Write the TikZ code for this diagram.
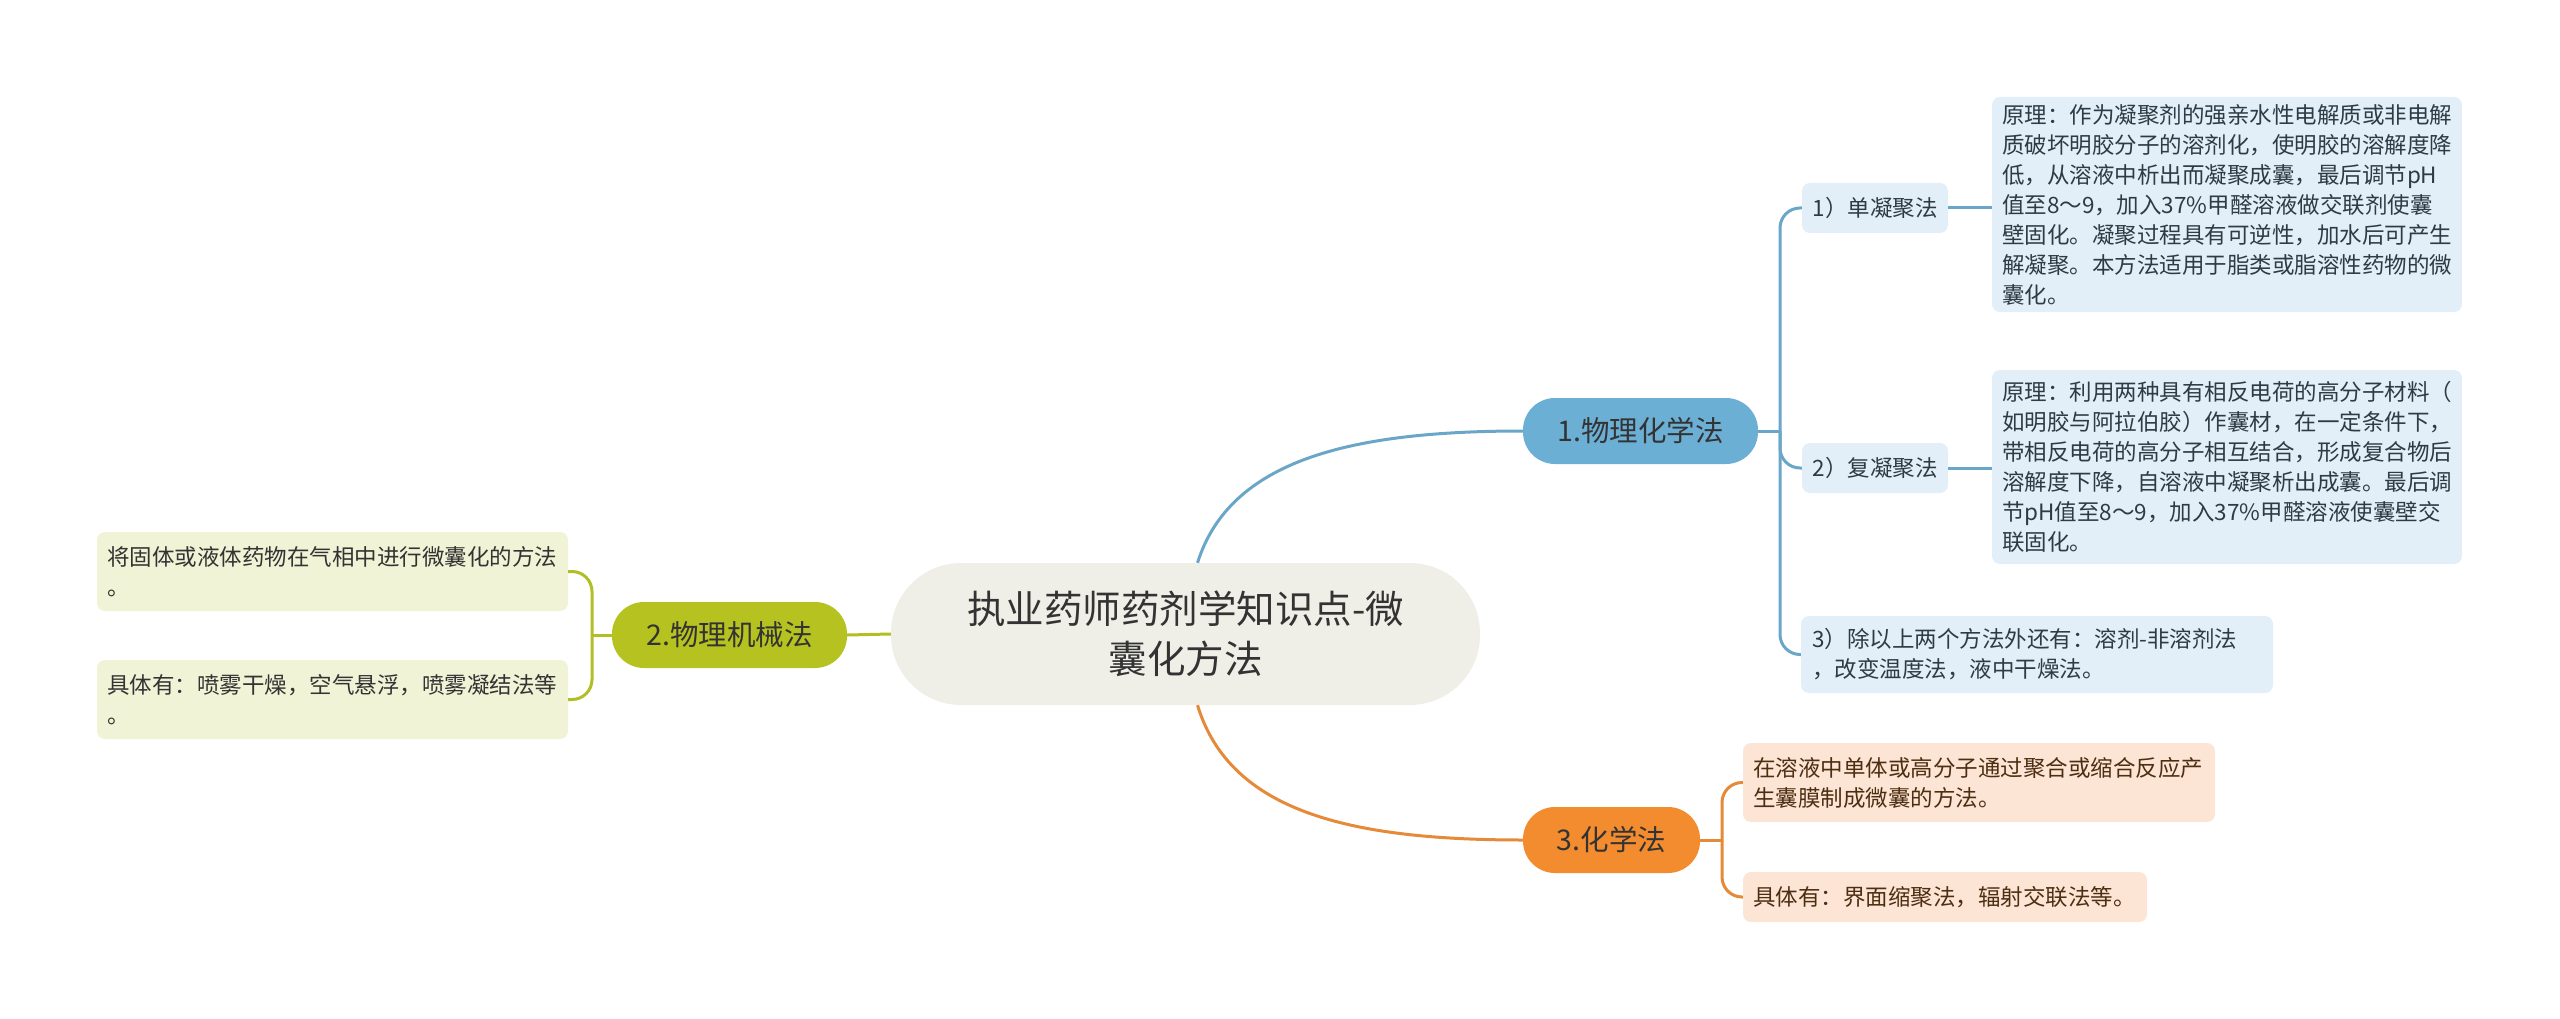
\documentclass[tikz,border=0pt]{standalone}
\usepackage{fontspec}
\setmainfont{Noto Sans CJK SC}
\definecolor{cfill}{HTML}{EFEFE7}
\definecolor{bmain}{HTML}{6CAFD4}
\definecolor{bline}{HTML}{6AA6C8}
\definecolor{blight}{HTML}{E2EFF8}
\definecolor{omain}{HTML}{B5C21F}
\definecolor{oline}{HTML}{B2BF24}
\definecolor{olight}{HTML}{F1F3D6}
\definecolor{rmain}{HTML}{F28C2E}
\definecolor{rline}{HTML}{E58A38}
\definecolor{rlight}{HTML}{FCE5D5}
\definecolor{txt}{HTML}{333333}
\definecolor{btxt}{HTML}{2E3A44}
\definecolor{rtxt}{HTML}{4D2E12}
\begin{document}
\begin{tikzpicture}[x=1pt,y=-1pt,
  rootbox/.style={rectangle, rounded corners=70pt, fill=cfill, minimum width=589pt, minimum height=142pt, inner sep=0pt, align=center, text=txt, font=\fontsize{38.5pt}{50pt}\selectfont},
  branchbox/.style={rectangle, rounded corners=32pt, minimum height=66pt, inner sep=0pt, align=center, text=txt, font=\fontsize{28.5pt}{34pt}\selectfont},
  labelbox/.style={rectangle, rounded corners=8pt, fill=blight, minimum height=50pt, inner sep=0pt, align=center, text=btxt, font=\fontsize{22.5pt}{30pt}\selectfont},
  leafbox/.style={rectangle, rounded corners=8pt, inner ysep=0pt, align=left, font=\fontsize{22.5pt}{30pt}\selectfont},
  bl/.style={draw=bline, line width=3pt},
  ol/.style={draw=oline, line width=3pt},
  rl/.style={draw=rline, line width=3pt}
]
\useasboundingbox (0,0) rectangle (2560,1019);

% root
\node[rootbox] (c) at (1185.5,634) {执业药师药剂学知识点-微\\囊化方法};

% branches
\node[branchbox, fill=bmain, minimum width=235pt] (b1) at (1640.5,431) {1.物理化学法};
\node[branchbox, fill=omain, minimum width=235pt] (b2) at (729.5,635) {2.物理机械法};
\node[branchbox, fill=rmain, minimum width=177pt] (b3) at (1611.5,840) {3.化学法};

% blue children
\node[labelbox, minimum width=146pt] (s1) at (1875,208) {1）单凝聚法};
\node[labelbox, minimum width=146pt] (s2) at (1875,468) {2）复凝聚法};
\node[leafbox, fill=blight, text=btxt, inner xsep=11pt, text width=450pt, minimum height=77pt] (s3) at (2037,654.5)
  {3）除以上两个方法外还有：溶剂-非溶剂法\\，改变温度法，液中干燥法。};

\node[leafbox, fill=blight, text=btxt, inner xsep=10pt, text width=450pt, minimum height=215pt] (t1) at (2227,204.5)
  {原理：作为凝聚剂的强亲水性电解质或非电解\\质破坏明胶分子的溶剂化，使明胶的溶解度降\\低，从溶液中析出而凝聚成囊，最后调节pH\\值至8～9，加入37\%甲醛溶液做交联剂使囊\\壁固化。凝聚过程具有可逆性，加水后可产生\\解凝聚。本方法适用于脂类或脂溶性药物的微\\囊化。};
\node[leafbox, fill=blight, text=btxt, inner xsep=10pt, text width=450pt, minimum height=194pt] (t2) at (2227,467)
  {原理：利用两种具有相反电荷的高分子材料（\\如明胶与阿拉伯胶）作囊材，在一定条件下，\\带相反电荷的高分子相互结合，形成复合物后\\溶解度下降，自溶液中凝聚析出成囊。最后调\\节pH值至8～9，加入37\%甲醛溶液使囊壁交\\联固化。};

% olive children
\node[leafbox, fill=olight, text=txt, inner xsep=10pt, text width=451pt, minimum height=79pt] (o1) at (332.5,571.5)
  {将固体或液体药物在气相中进行微囊化的方法\\。};
\node[leafbox, fill=olight, text=txt, inner xsep=10pt, text width=451pt, minimum height=79pt] (o2) at (332.5,699.5)
  {具体有：喷雾干燥，空气悬浮，喷雾凝结法等\\。};

% orange children
\node[leafbox, fill=rlight, text=rtxt, inner xsep=10pt, text width=452pt, minimum height=79pt] (r1) at (1979,782.5)
  {在溶液中单体或高分子通过聚合或缩合反应产\\生囊膜制成微囊的方法。};
\node[leafbox, fill=rlight, text=rtxt, inner xsep=10pt, text width=384pt, minimum height=50pt] (r2) at (1945,897)
  {具体有：界面缩聚法，辐射交联法等。};

% junctions
\coordinate (j1) at (1780,431);
\coordinate (j2) at (592,635);
\coordinate (j3) at (1722,840);

% root connectors
\draw[bl] ([xshift=12pt]c.north) .. controls (1230,460) and (1350,431) .. (b1.west);
\draw[ol] (c.west) -- (b2.east);
\draw[rl] ([xshift=12pt]c.south) .. controls (1230,812) and (1350,840) .. (b3.west);

% blue bracket
\draw[bl] (b1.east) -- (j1);
\draw[bl, rounded corners=20pt] (j1) |- (s1.west);
\draw[bl, rounded corners=20pt] (j1) |- (s2.west);
\draw[bl, rounded corners=20pt] (j1) |- (s3.west);
\draw[bl] (s1.east) -- (s1.east -| t1.west);
\draw[bl] (s2.east) -- (s2.east -| t2.west);

% olive bracket
\draw[ol] (b2.west) -- (j2);
\draw[ol, rounded corners=20pt] (j2) |- (o1.east);
\draw[ol, rounded corners=20pt] (j2) |- (o2.east);

% orange bracket
\draw[rl] (b3.east) -- (j3);
\draw[rl, rounded corners=20pt] (j3) |- (r1.west);
\draw[rl, rounded corners=20pt] (j3) |- (r2.west);
\end{tikzpicture}
\end{document}
